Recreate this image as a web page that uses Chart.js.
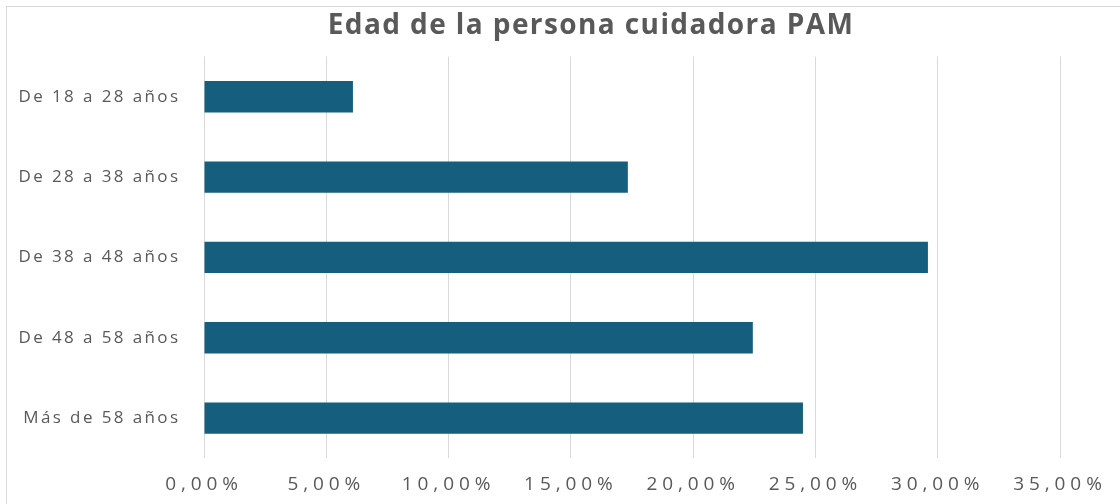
<!DOCTYPE html>
<html>
<head>
<meta charset="utf-8">
<script src="https://cdn.jsdelivr.net/npm/chart.js@4"></script>
<style>
  html, body { margin: 0; padding: 0; background: #fff; }
  #wrap { position: relative; width: 1120px; height: 504px; overflow: hidden; }
  #frame { position: absolute; left: 6px; top: 6px; width: 1200px; height: 600px; border: 1px solid #d9d9d9; }
  canvas { position: absolute; left: 0; top: 0; }
</style>
</head>
<body>
<div id="wrap">
  <div id="frame"></div>
  <canvas id="dataChart" width="1120" height="504"></canvas>
</div>
<script>
const chartTitle = 'Edad de la persona cuidadora PAM';
const categories = ['De 18 a 28 años', 'De 28 a 38 años', 'De 38 a 48 años', 'De 48 a 58 años', 'Más de 58 años'];
const values = [0.0609, 0.1733, 0.296, 0.2244, 0.2449];
const xTicks = [0, 0.05, 0.1, 0.15, 0.2, 0.25, 0.3, 0.35];
const barColor = '#155E7E';
const textColor = '#595959';

// the reference text is drawn wide, so give each axis its own letter spacing
function withSpacing(obj, fn, px) {
  if (!obj || obj['_sp_' + fn]) return;
  const orig = obj[fn];
  obj[fn] = function (...args) {
    const c = this.ctx;
    const old = c.letterSpacing;
    c.letterSpacing = px;
    orig.apply(this, args);
    c.letterSpacing = old || '0px';
  };
  obj['_sp_' + fn] = true;
}

const spacing = {
  id: 'spacing',
  afterUpdate(chart) {
    withSpacing(chart.scales.x, 'drawLabels', '4.9px');
    withSpacing(chart.scales.y, 'drawLabels', '2.4px');
  }
};

// title drawn by hand: it sits a bit right of the canvas centre in the reference
const titlePlugin = {
  id: 'titlePlugin',
  afterDraw(chart) {
    const c = chart.ctx;
    c.save();
    c.font = 'bold 28px "Open Sans"';
    c.letterSpacing = '1.4px';
    c.fillStyle = textColor;
    c.textAlign = 'center';
    c.textBaseline = 'middle';
    c.fillText(chartTitle, chart.width / 2 + 31, 26);
    c.restore();
  }
};

function fmtPct(v) {
  return (v * 100).toFixed(2).replace('.', ',') + '%';
}

const ctx = document.getElementById('dataChart').getContext('2d');
const dataChart = new Chart(ctx, {
  type: 'bar',
  data: {
    labels: categories,
    datasets: [{
      data: values,
      backgroundColor: barColor,
      barPercentage: 0.39,
      categoryPercentage: 1
    }]
  },
  options: {
    indexAxis: 'y',
    responsive: false,
    animation: false,
    layout: { padding: { left: 0, right: 60, top: 56.6, bottom: -7 } },
    scales: {
      x: {
        min: 0,
        max: 0.35,
        afterBuildTicks: axis => { axis.ticks = xTicks.map(v => ({ value: v })); },
        grid: { color: '#d9d9d9', drawTicks: false },
        border: { display: false },
        ticks: {
          padding: 15,
          color: textColor,
          font: { family: 'Open Sans', size: 19 },
          callback: v => fmtPct(v)
        }
      },
      y: {
        grid: { display: false, drawTicks: false },
        border: { display: false },
        afterFit: axis => { axis.width = 204; },
        ticks: {
          padding: 23.5,
          color: textColor,
          font: { family: 'Open Sans', size: 17 }
        }
      }
    },
    plugins: {
      legend: { display: false },
      tooltip: { enabled: false },
      title: { display: false }
    }
  },
  plugins: [spacing, titlePlugin]
});
</script>
</body>
</html>
